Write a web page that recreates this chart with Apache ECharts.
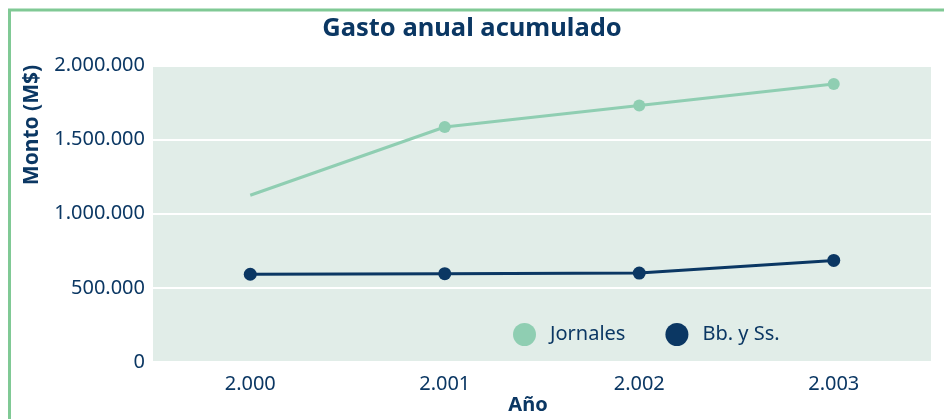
<!DOCTYPE html>
<html><head><meta charset="utf-8">
<script src="https://cdn.jsdelivr.net/npm/echarts@6/dist/echarts.min.js"></script>
<style>html,body{margin:0;padding:0;background:#fff}#c{width:944px;height:419px}</style>
</head><body><div id="c"></div>
<script>
const categories = ['2.000', '2.001', '2.002', '2.003'];
const jornales = [1125000, 1585000, 1730000, 1875000];
const bbySs = [592000, 596000, 600000, 685000];
const seriesNames = ['Jornales', 'Bb. y Ss.'];
const yTicks = [0, 500000, 1000000, 1500000, 2000000];

const navy = '#0b3763';
const green = '#8fceb2';
const font = 'Noto Sans';
function fmt(v){ return String(v).replace(/\B(?=(\d{3})+(?!\d))/g, '.'); }

const chart = echarts.init(document.getElementById('c'), null, {renderer:'canvas'});
chart.setOption({
  backgroundColor: '#fff',
  animation: false,
  textStyle: {fontFamily: font},
  title: {text: 'Gasto anual acumulado', left: 'center', top: 11,
    textStyle: {fontFamily: font, fontSize: 25.5, fontWeight: 'bold', color: navy}},
  grid: {left: 153, right: 13, top: 65.5, bottom: 57, show: true, backgroundColor: '#e1ede8', borderWidth: 0},
  legend: {data: seriesNames, left: 508, top: 318, icon: 'circle', itemWidth: 23, itemHeight: 23, itemGap: 40,
    textStyle: {fontFamily: font, fontSize: 20, color: navy, padding: [0,0,0,9]}},
  xAxis: {type: 'category', data: categories, boundaryGap: true,
    axisLine: {show: false}, axisTick: {show: false}, splitLine: {show: false},
    axisLabel: {fontFamily: font, fontSize: 20, color: navy, margin: 12}},
  yAxis: {type: 'value', min: yTicks[0], max: yTicks[yTicks.length-1], interval: 500000,
    axisLine: {show: false}, axisTick: {show: false},
    splitLine: {lineStyle: {color: '#ffffff', width: 2}},
    axisLabel: {fontFamily: font, fontSize: 20, color: navy, margin: 8, formatter: fmt}},
  graphic: [
    {type: 'polyline', shape: {points: [[9.5, 419], [9.5, 10], [944, 10]]}, style: {stroke: '#80c995', lineWidth: 3, fill: null}},
    {type: 'text', x: 32, y: 125, rotation: Math.PI/2, style: {text: 'Monto (M$)', fontFamily: font, fontSize: 21, fontWeight: 'bold', fill: navy, align: 'center', verticalAlign: 'middle'}},
    {type: 'text', x: 528, y: 405, style: {text: 'Año', fontFamily: font, fontSize: 20, fontWeight: 'bold', fill: navy, align: 'center', verticalAlign: 'middle'}}
  ],
  series: [
    {name: seriesNames[0], type: 'line', data: jornales.map((v,i)=> i===0 ? {value: v, symbol: 'none'} : v),
      symbol: 'circle', symbolSize: 12, itemStyle: {color: green}, lineStyle: {color: green, width: 3}},
    {name: seriesNames[1], type: 'line', data: bbySs, symbol: 'circle', symbolSize: 13,
      itemStyle: {color: navy}, lineStyle: {color: navy, width: 3}}
  ]
});
</script></body></html>
